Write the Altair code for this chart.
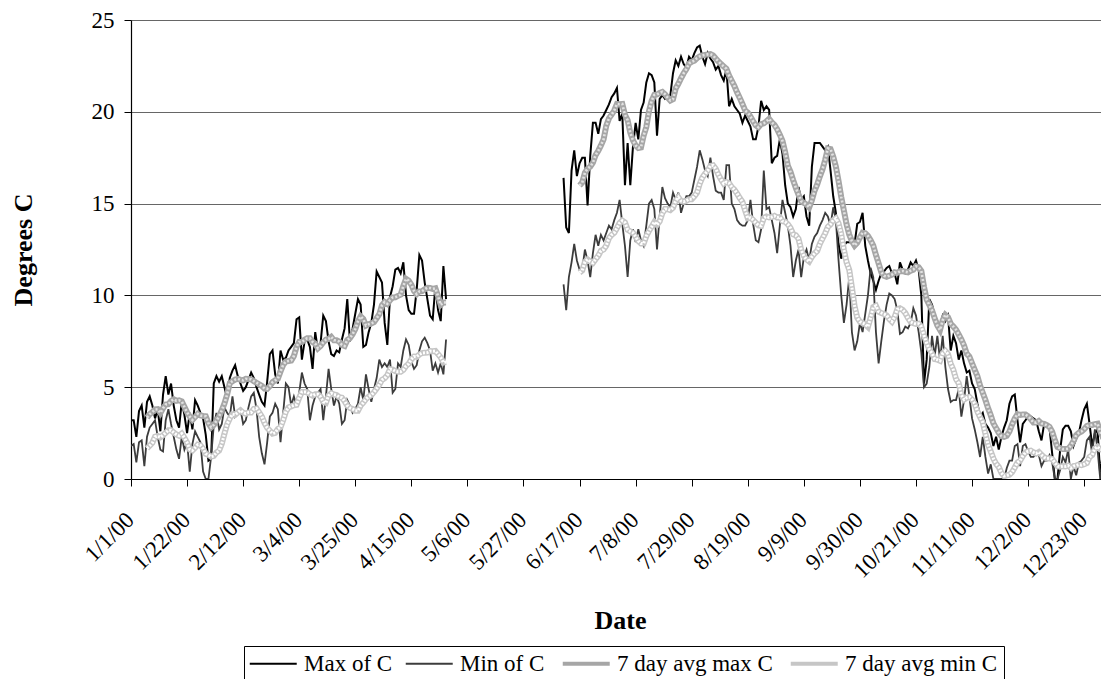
import altair as alt
import pandas as pd

# Daily air temperature in degrees C for 2000, logged in two blocks.
# Block 1: 1 Jan - 28 Apr
SPRING_START = "2000-01-01"
MAX_SPRING = [
    3.2, 3.2, 2.3, 3.7, 4.0, 2.8, 4.2, 4.5, 4.0, 3.3,
    3.8, 2.6, 4.6, 5.6, 4.6, 5.2, 4.0, 3.2, 2.8, 4.2,
    3.5, 2.5, 3.6, 2.7, 4.3, 4.0, 3.6, 3.3, 2.4, 1.0,
    1.1, 5.2, 5.6, 5.3, 5.6, 5.0, 4.4, 5.5, 5.9, 6.2,
    5.6, 5.2, 4.8, 5.0, 5.4, 5.8, 5.5, 5.0, 4.6, 4.2,
    4.0, 5.3, 6.8, 7.0, 5.7, 5.2, 7.0, 6.5, 6.6, 7.0,
    7.2, 7.4, 8.7, 8.8, 6.5, 7.5, 7.6, 7.2, 6.0, 8.0,
    7.0, 7.4, 8.9, 8.6, 7.5, 6.8, 6.7, 7.0, 6.9, 7.6,
    8.2, 9.8, 7.5, 8.2, 9.0, 9.8, 9.5, 7.2, 7.3, 8.0,
    8.5, 9.5, 11.3, 11.0, 10.7, 8.5, 7.3, 9.9, 10.5, 11.4,
    11.5, 11.2, 11.8, 10.0, 9.2, 9.0, 9.0, 10.3, 12.2, 11.9,
    10.7, 9.8, 8.9, 8.7, 10.5, 9.2, 8.6, 11.6, 9.8,
]
MIN_SPRING = [
    1.8, 1.9, 0.9, 2.0, 2.1, 0.7, 2.3, 2.8, 3.0, 3.2,
    2.3, 1.6, 1.5, 3.2, 3.8, 3.0, 2.3, 1.6, 1.1, 2.3,
    1.6, 2.0, 0.4, 1.9, 2.6, 2.3, 2.0, 0.4, 0.0, 0.0,
    1.2, 2.9, 3.6, 2.7, 3.0, 3.9, 3.6, 3.4, 4.5, 3.4,
    3.6, 3.8, 3.0, 3.2, 3.9, 4.5, 4.7, 3.8, 2.3, 1.4,
    0.8, 2.0, 3.4, 3.6, 4.1, 3.8, 2.0, 3.6, 5.2, 5.0,
    4.0, 4.5, 4.0, 4.7, 5.8, 5.2, 4.9, 3.2, 4.0, 4.5,
    4.7, 4.9, 3.2, 4.5, 6.0, 4.9, 4.0, 4.5, 4.1, 3.0,
    3.2, 4.3, 4.0, 3.6, 3.8, 4.1, 5.0, 4.3, 5.7, 4.9,
    4.2, 4.9, 5.5, 6.5, 6.1, 6.3, 6.1, 6.5, 4.7, 4.9,
    6.3, 6.1, 7.0, 7.6, 7.3, 6.4, 6.0, 6.2, 7.0, 7.5,
    7.7, 7.4, 7.0, 5.9, 6.3, 5.8, 6.3, 5.7, 7.6,
]

# Block 2: 11 Jun - 31 Dec
SUMMER_START = "2000-06-11"
MAX_SUMMER = [
    16.4, 13.7, 13.4, 16.8, 17.9, 16.5, 17.2, 17.5, 17.5, 14.9,
    17.6, 19.4, 19.4, 18.8, 19.6, 19.8, 20.1, 20.4, 20.8, 21.0,
    21.3, 19.5, 19.9, 16.0, 18.3, 16.0, 18.1, 19.4, 18.5, 20.1,
    20.5, 21.6, 22.1, 22.0, 21.6, 18.7, 20.7, 20.9, 20.7, 20.8,
    20.9, 22.1, 22.8, 22.5, 23.0, 22.6, 22.4, 23.0, 22.8, 23.2,
    23.5, 23.6, 23.0, 22.6, 23.2, 22.9, 22.7, 22.3, 22.5, 22.0,
    21.7, 22.3, 20.3, 20.7, 20.3, 20.1, 19.9, 19.4, 19.8, 19.5,
    19.2, 18.5, 18.5, 19.2, 20.6, 20.1, 20.3, 20.1, 17.2, 17.5,
    17.6, 18.5, 17.7, 16.0, 15.0, 14.8, 14.3, 14.7, 15.9, 15.2,
    15.4, 14.3, 13.8, 17.0, 18.3, 18.3, 18.3, 18.1, 17.9, 18.1,
    16.8, 15.4, 14.5, 12.8, 12.0, 12.7, 12.9, 12.9, 12.9, 12.8,
    13.9, 14.0, 14.5, 12.7, 11.9, 11.2, 10.8, 10.3, 10.8, 11.2,
    11.3, 11.5, 11.6, 11.2, 11.2, 10.6, 11.8, 11.4, 11.2, 11.4,
    11.8, 11.6, 11.9, 11.4, 10.0, 5.2, 6.5, 9.8, 9.5, 8.9,
    8.6, 8.3, 8.9, 8.6, 8.9, 7.0, 7.8, 7.4, 6.5, 7.0,
    6.3, 5.8, 5.9, 5.2, 4.9, 4.1, 3.4, 3.6, 3.0, 2.8,
    2.5, 1.8, 2.3, 1.6, 2.3, 2.8, 3.2, 4.1, 4.5, 4.6,
    3.2, 2.0, 3.0, 3.2, 3.4, 3.4, 3.3, 3.2, 2.6, 2.1,
    3.0, 2.9, 2.8, 1.4, 0.0, 0.0, 1.6, 2.7, 2.9, 2.9,
    2.6, 1.8, 2.2, 2.5, 3.2, 3.8, 4.1, 3.0, 1.8, 2.5,
    2.7, 0.2, 1.5, 2.8,
]
MIN_SUMMER = [
    10.6, 9.2, 11.0, 11.8, 12.8, 11.9, 11.4, 11.4, 12.5, 11.9,
    11.0, 12.3, 13.3, 12.7, 13.3, 13.0, 13.4, 13.8, 13.6, 14.1,
    14.5, 15.2, 13.9, 12.7, 11.0, 13.0, 13.6, 12.9, 13.6, 13.0,
    12.7, 13.8, 15.0, 15.2, 14.7, 12.5, 14.3, 15.9, 15.3, 15.0,
    14.8, 15.6, 15.2, 15.6, 14.5, 15.0, 15.4, 15.4, 15.6, 16.3,
    17.0, 17.9, 17.4, 16.8, 16.5, 17.5, 16.5, 15.7, 15.6, 15.6,
    15.2, 17.1, 17.1, 15.0, 14.7, 14.1, 13.9, 13.8, 13.8, 14.1,
    15.2, 13.9, 13.0, 12.9, 13.6, 16.8, 14.7, 14.8, 14.1, 13.4,
    12.3, 13.8, 15.2, 14.5, 13.8, 12.7, 11.0, 11.9, 12.5, 11.0,
    12.1, 12.5, 11.9, 12.8, 13.2, 13.4, 13.8, 14.1, 14.5, 14.3,
    13.8, 14.8, 14.1, 11.9, 10.0, 8.5, 9.5, 11.0, 8.0, 7.0,
    7.5, 8.5, 8.0, 9.0, 10.0, 11.5, 11.0, 8.0, 6.3, 7.5,
    8.6, 9.5, 10.1, 10.0, 9.8, 9.2, 7.9, 8.0, 8.3, 8.2,
    8.5, 9.3, 8.9, 8.0, 6.9, 5.0, 5.2, 6.1, 7.8, 6.7,
    7.8, 6.5, 7.8, 6.1, 4.9, 4.2, 4.3, 4.3, 4.9, 3.4,
    4.3, 5.6, 4.5, 3.3, 2.7, 2.0, 1.2, 2.3, 1.2, 0.3,
    0.8, 0.0, 0.0, 0.0, 0.0, 0.0, 0.6, 1.0, 1.0, 1.8,
    1.9, 0.7, 1.8, 1.9, 1.5, 1.2, 1.2, 1.4, 1.3, 0.7,
    1.0, 1.0, 1.3, 0.9, 0.0, 0.0, 0.5, 1.2, 0.9, 1.6,
    0.0, 0.7, 0.2, 0.9, 1.0, 1.2, 2.1, 2.3, 1.4, 2.7,
    1.6, 0.0, 1.0, 1.5,
]

SERIES = ["Max of C", "Min of C", "7 day avg max C", "7 day avg min C"]
SERIES_COLORS = ["#000000", "#3c3c3c", "#a6a6a6", "#c6c6c6"]
# key widths shown in the legend; the smoothed bands themselves are drawn wider
LEGEND_WIDTHS = [2.0, 1.8, 4.0, 4.0]
DAILY_WIDTH = {"Max of C": 2.0, "Min of C": 1.8}
BAND_WIDTH = 6.0

TICK_DATES = [
    "2000-01-01", "2000-01-22", "2000-02-12", "2000-03-04", "2000-03-25",
    "2000-04-15", "2000-05-06", "2000-05-27", "2000-06-17", "2000-07-08",
    "2000-07-29", "2000-08-19", "2000-09-09", "2000-09-30", "2000-10-21",
    "2000-11-11", "2000-12-02", "2000-12-23",
]
Y_TICKS = [0, 5, 10, 15, 20, 25]

FONT = "Liberation Serif"


def block_rows(start, max_vals, min_vals, block_id):
    """Long-form rows for one logging block, with trailing 7-day means."""
    dates = pd.date_range(start, periods=len(max_vals), freq="D")
    frame = pd.DataFrame({"date": dates.strftime("%Y-%m-%d"),
                          "Max of C": max_vals, "Min of C": min_vals})
    frame["7 day avg max C"] = frame["Max of C"].rolling(7).mean()
    frame["7 day avg min C"] = frame["Min of C"].rolling(7).mean()
    long = frame.melt(id_vars="date", var_name="series", value_name="temp")
    long = long.dropna()
    long["block"] = block_id
    return long


data = pd.concat([
    block_rows(SPRING_START, MAX_SPRING, MIN_SPRING, 1),
    block_rows(SUMMER_START, MAX_SUMMER, MIN_SUMMER, 2),
], ignore_index=True)


def utc_day(text):
    ts = pd.Timestamp(text)
    return alt.DateTime(year=ts.year, month=ts.month, date=ts.day, utc=True)


x_enc = alt.X(
    "date:T",
    scale=alt.Scale(
        type="utc",
        domain=[utc_day("2000-01-01"),
                alt.DateTime(year=2000, month=12, date=29, hours=7, utc=True)],
    ),
    axis=alt.Axis(
        values=[utc_day(d) for d in TICK_DATES],
        format="%-m/%-d/%y",
        labelAngle=-45, labelAlign="right", labelBaseline="middle",
        labelPadding=30, labelOffset=-1,
        labelFont=FONT, labelFontSize=23, labelColor="black",
        tickSize=7, tickColor="black", domainColor="black", domainWidth=1.2,
        grid=False, labelOverlap=False,
        title="Date", titleFont=FONT, titleFontSize=26, titleFontWeight="bold",
        titleColor="black", titleX=489, titleY=149,
        titleAlign="center", titleBaseline="alphabetic",
    ),
)
y_enc = alt.Y(
    "temp:Q",
    scale=alt.Scale(domain=[0, 25], nice=False),
    axis=alt.Axis(
        values=Y_TICKS, labelFont=FONT, labelFontSize=23, labelColor="black",
        labelPadding=10, tickSize=7, tickColor="black",
        domainColor="black", domainWidth=1.2,
        grid=True, gridColor="#666666", gridWidth=1,
        title="Degrees C", titleFont=FONT, titleFontSize=26,
        titleFontWeight="bold", titleColor="black",
        titleAngle=270, titleX=-100, titleY=229.5,
        titleAlign="center", titleBaseline="alphabetic",
    ),
)

# Legend keys: a 47 px line drawn across a small symbol box,
# so the row stays as tall as one line of text.
legend = alt.Legend(
    orient="none", legendX=113, legendY=626, direction="horizontal",
    title=None, symbolType="M-2,0H6", symbolSize=138,
    labelFont=FONT, labelFontSize=23, labelColor="black",
    labelOffset=31, columnPadding=9, padding=6,
    strokeColor="black", fillColor="white",
)
color_enc = alt.Color(
    "series:N",
    scale=alt.Scale(domain=SERIES, range=SERIES_COLORS),
    legend=legend,
)
width_enc = alt.StrokeWidth(
    "series:N",
    scale=alt.Scale(type="ordinal", domain=SERIES, range=LEGEND_WIDTHS),
    legend=legend,
)

base = alt.Chart(data).encode(x=x_enc, y=y_enc)

daily = base.transform_filter(
    alt.FieldOneOfPredicate(field="series", oneOf=SERIES[:2])
).mark_line(clip=True).encode(
    color=color_enc, strokeWidth=width_enc, detail="block:N",
)

averages = base.transform_filter(
    alt.FieldOneOfPredicate(field="series", oneOf=SERIES[2:])
).mark_line(clip=True, strokeWidth=BAND_WIDTH).encode(
    color=color_enc, detail="block:N",
)

# speckled texture along the two smoothed bands
avg_max_texture = base.transform_filter(
    alt.datum.series == SERIES[2]
).mark_line(clip=True, strokeDash=[2, 2], strokeWidth=2.6, color="#e2e2e2").encode(
    detail="block:N",
)
avg_min_texture = base.transform_filter(
    alt.datum.series == SERIES[3]
).mark_line(clip=True, strokeDash=[2, 1.5], strokeWidth=3.0, color="#ffffff").encode(
    detail="block:N",
)

chart = alt.layer(
    daily, averages, avg_max_texture, avg_min_texture
).properties(
    width=970, height=459,
    padding={"left": 131, "top": 20, "right": 0, "bottom": 200},
    autosize=alt.AutoSizeParams(type="none"),
    background="white",
).configure_view(stroke=None)

chart.save("out.html", embed_options={"renderer": "svg", "actions": False})
